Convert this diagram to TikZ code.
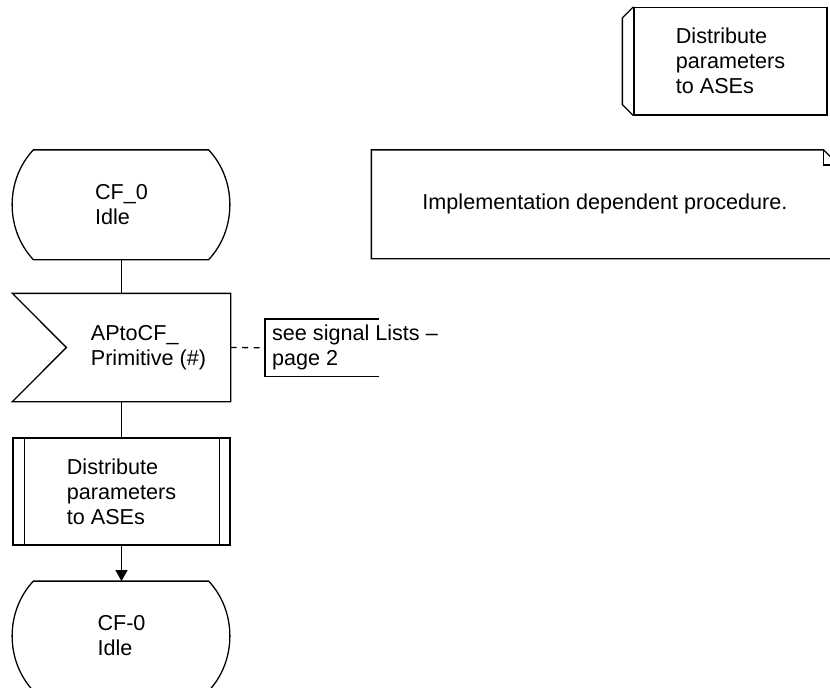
\documentclass[tikz,border=0pt]{standalone}
\usepackage{fontspec}
\setmainfont{Liberation Sans}
\usetikzlibrary{arrows.meta,calc}
\newcommand\sdlstate[1]{\draw ([xshift=21pt]#1.north west) -- ([xshift=-22pt]#1.north east) .. controls +(28.3,30.2) and +(28.3,-30.2) .. ([xshift=-22pt]#1.south east) -- ([xshift=21pt]#1.south west) .. controls +(-28.3,-30.2) and +(-28.3,30.2) .. ([xshift=21pt]#1.north west) -- cycle;}
\begin{document}
\begin{tikzpicture}[x=1pt,y=-1pt,line width=1.3pt,
  txt/.style={font=\fontsize{21.6}{25}\selectfont,align=left,inner sep=0pt},
  statebox/.style={txt,minimum width=217pt,minimum height=108.5pt},
  sigbox/.style={minimum width=217pt,minimum height=107pt,inner sep=0pt},
  procbox/.style={txt,draw,minimum width=217pt,minimum height=107pt},
  procboxb/.style={txt,draw,minimum width=193pt,minimum height=107.5pt},
  notebox/.style={txt,minimum width=466pt,minimum height=107.5pt},
  flowarrow/.style={-{Triangle[width=12pt,length=11pt]}},
  dashlink/.style={dash pattern=on 6pt off 5.5pt}]
\useasboundingbox (0,0) rectangle (830,688);
\clip (0,0) rectangle (830,688);
% top right procedure reference
\node[procboxb] (p2) at (730.5,61.25) {Distribute\\parameters\\to ASEs};
\draw (p2.north west) -- ++(-11,11) -- ($(p2.south west)+(-11,-11)$) -- (p2.south west);
% text annotation
\node[notebox] (cm) at (605,204.25) {Implementation dependent procedure.};
\draw (cm.north west) -- ($(cm.north east)+(-15,0)$) -- ($(cm.north east)+(0,15)$) -- (cm.south east) -- (cm.south west) -- cycle;
\draw ($(cm.north east)+(-15,0)$) -- ++(0,15) -- ($(cm.north east)+(0,15)$);
% state CF_0
\node[statebox] (s1) at (121.5,204.75) {CF\_0\\Idle};
\sdlstate{s1}
% signal input
\node[sigbox] (sig) at (121.5,347.5) {};
\draw (sig.north west) -- (sig.north east) -- (sig.south east) -- (sig.south west) -- ([xshift=54pt]sig.west) -- cycle;
\node[txt] (sigt) at ([xshift=27pt]sig.center) {APtoCF\_\\Primitive (\#)};
% comment
\node[txt,anchor=west,inner xsep=6.5pt] (c2) at (265,347.75) {see signal Lists –\\page 2};
\draw ($(c2.west)+(114,-28.75)$) -- ($(c2.west)+(0,-28.75)$) -- ($(c2.west)+(0,28.75)$) -- ++(114,0);
\draw[dashlink] (sig.east) -- (c2.west);
% procedure call
\node[procbox] (p1) at (121.5,491.5) {Distribute\\parameters\\to ASEs};
\draw ([xshift=12pt]p1.north west) -- ([xshift=12pt]p1.south west);
\draw ([xshift=-11pt]p1.north east) -- ([xshift=-11pt]p1.south east);
% state CF-0
\node[statebox] (s2) at (121.5,636) {CF-0\\Idle};
\sdlstate{s2}
% connectors
\draw (s1.south) -- (sig.north);
\draw (sig.south) -- (p1.north);
\draw[flowarrow] (p1.south) -- (s2.north);
\end{tikzpicture}
\end{document}
